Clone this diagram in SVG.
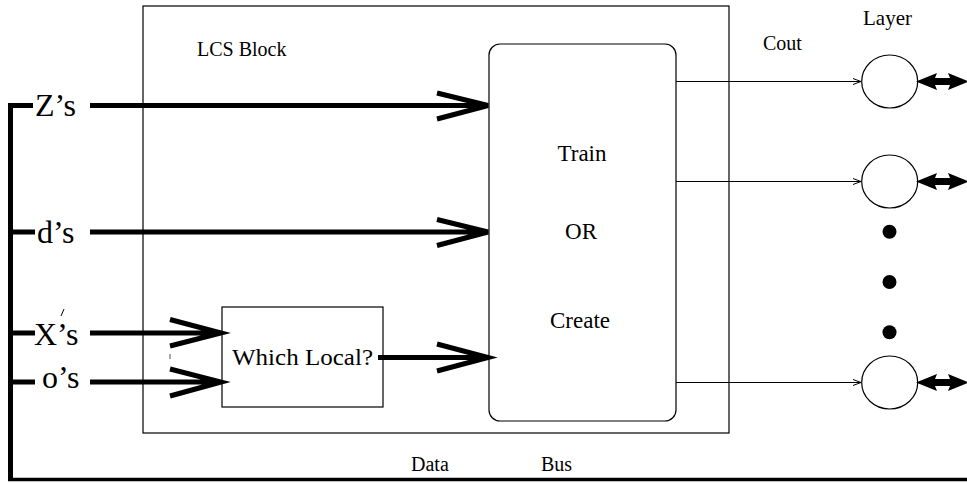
<svg xmlns="http://www.w3.org/2000/svg" width="967" height="484" viewBox="0 0 967 484">
<style>
text{font-family:"Liberation Serif","Times New Roman",serif;fill:#000}
.box{fill:none;stroke:#000;stroke-width:1.2}
.bus{fill:none;stroke:#000;stroke-width:5}
.thick{fill:none;stroke:#000;stroke-width:5}
.thin{fill:none;stroke:#000;stroke-width:1}
.big{font-size:32px}
.mid{font-size:20px}
.inner{font-size:23px}
</style>
<rect width="967" height="484" fill="#fff"/>
<g id="lcs-block">
<rect class="box" x="143" y="6" width="586" height="427"/>
<text class="mid" x="197" y="56">LCS Block</text>
</g>
<g id="train-box">
<rect class="box" x="489" y="44" width="187" height="377" rx="11"/>
<text class="inner" x="582" y="161" text-anchor="middle">Train</text>
<text class="inner" x="581" y="239" text-anchor="middle">OR</text>
<text class="inner" x="580" y="328" text-anchor="middle">Create</text>
</g>
<g id="which-local">
<rect class="box" x="222" y="307" width="161" height="100"/>
<text x="232" y="365" style="font-size:24px" textLength="141" lengthAdjust="spacingAndGlyphs">Which Local?</text>
</g>
<g id="labels">
<text class="big" x="35" y="116">Z’s</text>
<text class="big" x="37" y="243">d’s</text>
<text class="big" x="34" y="345">X’s</text>
<text class="big" x="42" y="388">o’s</text>
<text class="mid" x="763" y="50">Cout</text>
<text style="font-size:21px" x="863" y="25">Layer</text>
<text class="mid" x="411" y="471">Data</text>
<text class="mid" x="541" y="471">Bus</text>
</g>
<g id="marks">
<path d="M61,316 L64,309" stroke="#000" stroke-width="1"/>
<path d="M170,354 V359" stroke="#888" stroke-width="1.5"/>
</g>
<g id="layer-nodes">
<ellipse class="box" cx="889.7" cy="81.5" rx="28" ry="26.5"/>
<ellipse class="box" cx="889.7" cy="181.5" rx="28" ry="26.5"/>
<ellipse class="box" cx="889.7" cy="382.5" rx="28" ry="26.5"/>
<circle cx="889.5" cy="231.7" r="7"/>
<circle cx="889.5" cy="282" r="7"/>
<circle cx="889.5" cy="332.3" r="7"/>
</g>
<g id="connectors">
<path class="bus" d="M33,105.5 H10.5 V479"/>
<path d="M8,479.5 H967" stroke="#000" stroke-width="3.5"/>
<path class="thick" d="M10,232 H35 M10,333 H35 M10,382 H35"/>
<path class="thick" d="M90,105.5 H488 M437,93 L488,105.5 L437,119"/>
<path class="thick" d="M90,232 H488 M437,219.5 L488,232 L437,245.5"/>
<path class="thick" d="M90,333 H221 M170,319.5 L221,333 L170,346"/>
<path class="thick" d="M90,382 H221 M170,369 L221,382 L170,396"/>
<path class="thick" d="M378,357.5 H488 M437,344 L488,357.5 L437,371"/>
<path class="thin" d="M676,81.5 H861 M853,78.5 L861,81.5 L853,84.5"/>
<path class="thin" d="M676,181.5 H861 M853,178.5 L861,181.5 L853,184.5"/>
<path class="thin" d="M676,382.5 H861 M853,379.5 L861,382.5 L853,385.5"/>
<g id="double-arrows">
<path d="M916,81.5 L937,73 L935,78 L950,78 L948,73 L969,81.5 L948,90 L950,85 L935,85 L937,90 Z"/>
<path d="M916,181.5 L937,173 L935,178 L950,178 L948,173 L969,181.5 L948,190 L950,185 L935,185 L937,190 Z"/>
<path d="M916,382.5 L937,374 L935,379 L950,379 L948,374 L969,382.5 L948,391 L950,386 L935,386 L937,391 Z"/>
</g>
</g>
</svg>
